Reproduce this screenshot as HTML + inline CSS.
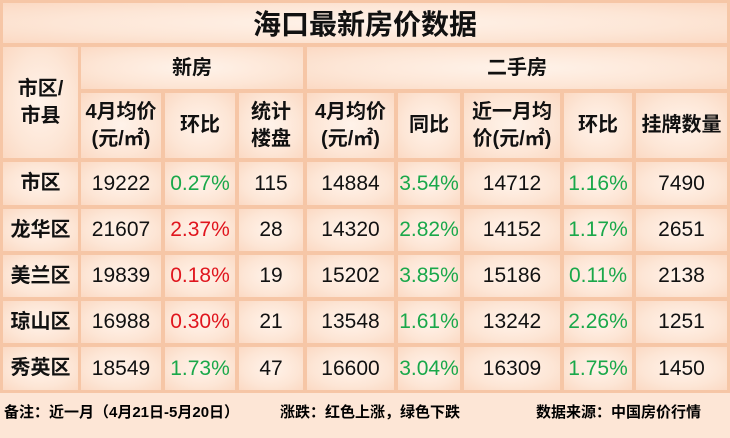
<!DOCTYPE html><html><head><meta charset="utf-8"><style>
body{margin:0;width:730px;height:438px;background:#f6c6a6;position:relative;overflow:hidden;font-family:"Liberation Sans","Noto Sans CJK SC",sans-serif}
.c{position:absolute;background:radial-gradient(ellipse at center,#fff3ea 0%,#fde6d6 60%,#fbd9c3 100%);display:flex;align-items:center;justify-content:center;text-align:center;color:#111;font-size:21px}
.h{font-weight:bold;font-size:20px;line-height:27px}
.g{color:#1aa84a}.r{color:#e0161e}
.f{position:absolute;left:0;top:393px;width:730px;height:45px;background:#fde6d6;font-size:15px;font-weight:bold;line-height:40px}
</style></head><body>
<div class="c" style="left:3px;top:3px;width:724px;height:40px;font-size:28px;font-weight:bold">海口最新房价数据</div>
<div class="c h" style="left:3px;top:47px;width:75px;height:111px">市区/<br>市县</div>
<div class="c h" style="left:81px;top:47px;width:222px;height:42px">新房</div>
<div class="c h" style="left:307px;top:47px;width:420px;height:42px">二手房</div>
<div class="c h" style="left:81px;top:93px;width:80px;height:65px">4月均价<br>(元/㎡)</div>
<div class="c h" style="left:165px;top:93px;width:70px;height:65px">环比</div>
<div class="c h" style="left:239px;top:93px;width:64px;height:65px">统计<br>楼盘</div>
<div class="c h" style="left:307px;top:93px;width:87px;height:65px">4月均价<br>(元/㎡)</div>
<div class="c h" style="left:398px;top:93px;width:62px;height:65px">同比</div>
<div class="c h" style="left:464px;top:93px;width:96px;height:65px">近一月均<br>价(元/㎡)</div>
<div class="c h" style="left:564px;top:93px;width:68px;height:65px">环比</div>
<div class="c h" style="left:636px;top:93px;width:91px;height:65px">挂牌数量</div>

<div class="c h" style="left:3px;top:162px;width:75px;height:43px">市区</div><div class="c" style="left:81px;top:162px;width:80px;height:43px">19222</div><div class="c g" style="left:165px;top:162px;width:70px;height:43px">0.27%</div><div class="c" style="left:239px;top:162px;width:64px;height:43px">115</div><div class="c" style="left:307px;top:162px;width:87px;height:43px">14884</div><div class="c g" style="left:398px;top:162px;width:62px;height:43px">3.54%</div><div class="c" style="left:464px;top:162px;width:96px;height:43px">14712</div><div class="c g" style="left:564px;top:162px;width:68px;height:43px">1.16%</div><div class="c" style="left:636px;top:162px;width:91px;height:43px">7490</div>

<div class="c h" style="left:3px;top:209px;width:75px;height:42px">龙华区</div><div class="c" style="left:81px;top:209px;width:80px;height:42px">21607</div><div class="c r" style="left:165px;top:209px;width:70px;height:42px">2.37%</div><div class="c" style="left:239px;top:209px;width:64px;height:42px">28</div><div class="c" style="left:307px;top:209px;width:87px;height:42px">14320</div><div class="c g" style="left:398px;top:209px;width:62px;height:42px">2.82%</div><div class="c" style="left:464px;top:209px;width:96px;height:42px">14152</div><div class="c g" style="left:564px;top:209px;width:68px;height:42px">1.17%</div><div class="c" style="left:636px;top:209px;width:91px;height:42px">2651</div>

<div class="c h" style="left:3px;top:255px;width:75px;height:42px">美兰区</div><div class="c" style="left:81px;top:255px;width:80px;height:42px">19839</div><div class="c r" style="left:165px;top:255px;width:70px;height:42px">0.18%</div><div class="c" style="left:239px;top:255px;width:64px;height:42px">19</div><div class="c" style="left:307px;top:255px;width:87px;height:42px">15202</div><div class="c g" style="left:398px;top:255px;width:62px;height:42px">3.85%</div><div class="c" style="left:464px;top:255px;width:96px;height:42px">15186</div><div class="c g" style="left:564px;top:255px;width:68px;height:42px">0.11%</div><div class="c" style="left:636px;top:255px;width:91px;height:42px">2138</div>

<div class="c h" style="left:3px;top:301px;width:75px;height:42px">琼山区</div><div class="c" style="left:81px;top:301px;width:80px;height:42px">16988</div><div class="c r" style="left:165px;top:301px;width:70px;height:42px">0.30%</div><div class="c" style="left:239px;top:301px;width:64px;height:42px">21</div><div class="c" style="left:307px;top:301px;width:87px;height:42px">13548</div><div class="c g" style="left:398px;top:301px;width:62px;height:42px">1.61%</div><div class="c" style="left:464px;top:301px;width:96px;height:42px">13242</div><div class="c g" style="left:564px;top:301px;width:68px;height:42px">2.26%</div><div class="c" style="left:636px;top:301px;width:91px;height:42px">1251</div>

<div class="c h" style="left:3px;top:347px;width:75px;height:43px">秀英区</div><div class="c" style="left:81px;top:347px;width:80px;height:43px">18549</div><div class="c g" style="left:165px;top:347px;width:70px;height:43px">1.73%</div><div class="c" style="left:239px;top:347px;width:64px;height:43px">47</div><div class="c" style="left:307px;top:347px;width:87px;height:43px">16600</div><div class="c g" style="left:398px;top:347px;width:62px;height:43px">3.04%</div><div class="c" style="left:464px;top:347px;width:96px;height:43px">16309</div><div class="c g" style="left:564px;top:347px;width:68px;height:43px">1.75%</div><div class="c" style="left:636px;top:347px;width:91px;height:43px">1450</div>

<div class="f"><span style="position:absolute;left:4px">备注：近一月（4月21日-5月20日）</span><span style="position:absolute;left:280px">涨跌：红色上涨，绿色下跌</span><span style="position:absolute;left:536px">数据来源：中国房价行情</span></div>
</body></html>
